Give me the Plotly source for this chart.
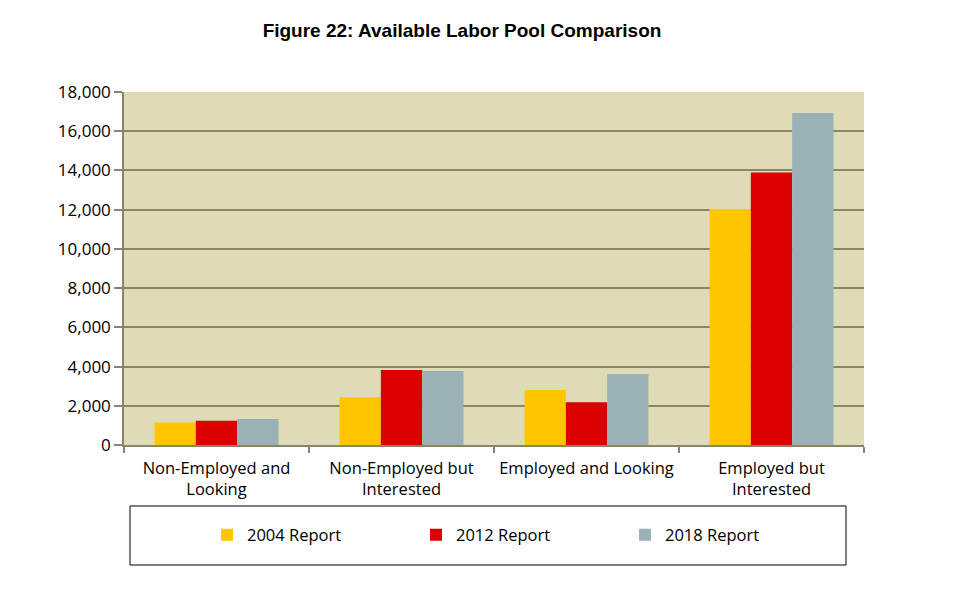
import plotly.graph_objects as go

categories = ["Non-Employed and<br>Looking", "Non-Employed but<br>Interested",
              "Employed and Looking", "Employed but<br>Interested"]
series_names = ["2004 Report", "2012 Report", "2018 Report"]
v2004 = [1150, 2430, 2800, 12030]
v2012 = [1240, 3820, 2180, 13890]
v2018 = [1330, 3770, 3620, 16930]
colors = ["#FFC600", "#DC0000", "#9AB2B6"]
y_ticks = [0, 2000, 4000, 6000, 8000, 10000, 12000, 14000, 16000, 18000]

OFF = 8  # page body margin
W, H = 980 - OFF, 608 - OFF
L, R, T, B = 124 - OFF, 864 - OFF, 92 - OFF, 445 - OFF
pw, ph = R - L, B - T

fig = go.Figure()
for name, vals, c in zip(series_names, [v2004, v2012, v2018], colors):
    fig.add_trace(go.Bar(x=categories, y=vals, name=name, marker_color=c,
                         marker_line_width=0))

axis_col = "#8B8468"
fnt = "Open Sans, Lato, sans-serif"

def px_x(p):
    return (p - OFF - L) / pw

def px_y(p):
    return (B - (p - OFF)) / ph

fig.update_layout(
    width=W, height=H,
    margin=dict(l=L, r=W - R, t=T, b=H - B),
    paper_bgcolor="white",
    plot_bgcolor="#DFDBB7",
    barmode="group",
    bargap=0.33,
    bargroupgap=0,
    title=dict(text="<b>Figure 22: Available Labor Pool Comparison</b>",
               x=(462 - OFF) / W, xanchor="center", y=1 - (30 - OFF) / H, yanchor="middle",
               font=dict(family="Liberation Sans, Arial, sans-serif", size=19, color="black")),
    font=dict(family=fnt, size=17, color="black"),
    showlegend=True,
    legend=dict(orientation="h", x=px_x(207), xanchor="left",
                y=px_y(535), yanchor="middle",
                entrywidth=164, entrywidthmode="pixels",
                font=dict(family=fnt, size=16.5, color="black"),
                bgcolor="rgba(0,0,0,0)", itemclick=False),
    xaxis=dict(showline=True, linecolor=axis_col, linewidth=1.5,
               ticks="outside", tickson="boundaries", ticklen=6, tickcolor=axis_col,
               tickwidth=1.5, showgrid=False, tickfont=dict(size=16.5), tickangle=0,
               ticklabelstandoff=7, fixedrange=True),
    yaxis=dict(range=[0, 18000], tickvals=y_ticks, tickformat=",",
               showline=True, linecolor=axis_col, linewidth=1.5,
               ticks="outside", ticklen=8, tickcolor=axis_col, tickwidth=1.5,
               showgrid=True, gridcolor=axis_col, gridwidth=1.5,
               tickfont=dict(size=17), zeroline=False, fixedrange=True),
    shapes=[dict(type="rect", xref="paper", yref="paper",
                 x0=px_x(130), x1=px_x(846), y0=px_y(506), y1=px_y(565),
                 line=dict(color="black", width=1), fillcolor="rgba(0,0,0,0)")],
)

fig.write_html("out.html")
